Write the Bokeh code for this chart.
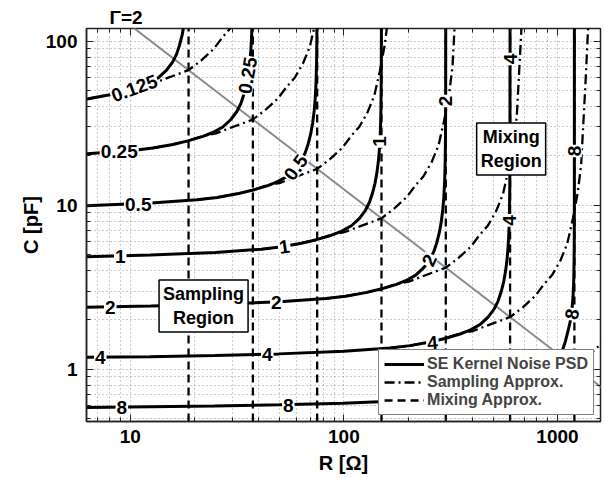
from bokeh.plotting import figure
from bokeh.models import (Range1d, FixedTicker, LogAxis, Label, Legend, LegendItem,
                          ColumnDataSource, NumeralTickFormatter)
from bokeh.core.properties import value
from bokeh.embed import file_html
from bokeh.resources import INLINE

FONT = "Liberation Sans"

# ---------------- axis extents and ticks ----------------
R_MIN, R_MAX = 6.24, 1590.0      # ohm
C_MIN, C_MAX = 0.481, 119.5      # pF

x_ticks = [10, 100, 1000]
x_tick_labels = ["10", "100", "1000"]
x_minor = [7, 8, 9, 20, 30, 40, 50, 60, 70, 80, 90, 200, 300, 400, 500, 600, 700, 800, 900]
y_ticks = [1, 10, 100]
y_tick_labels = ["1", "10", "100"]
y_minor = [0.5, 0.6, 0.7, 0.8, 0.9, 2, 3, 4, 5, 6, 7, 8, 9, 20, 30, 40, 50, 60, 70, 80, 90]

# ---------------- SE kernel noise PSD contours (R [ohm], C [pF]) ----------------
se_R_0125 = [5.14, 6.375, 7.91, 9.3, 10.94, 12.18, 13.56, 14.79, 15.78, 16.48, 17.01, 17.49, 17.86]
se_C_0125 = [43.2, 44.6, 47.0, 49.4, 52.6, 55.5, 60.0, 66.6, 74.6, 83.4, 94.6, 108.9, 127.0]

se_R_025 = [3.105, 6.26, 10.28, 12.75, 15.83, 18.6, 21.88, 24.35, 27.13, 29.58, 31.55, 32.95,
            34.03, 34.98, 35.73, 36.3, 36.7, 37.03, 37.25]
se_C_025 = [19.88, 20.64, 21.6, 22.32, 23.48, 24.68, 26.28, 27.76, 30.0, 33.32, 37.28, 41.72,
            47.32, 54.44, 63.52, 75.16, 88.96, 109.8, 145.3]

se_R_05 = [3.115, 6.21, 12.52, 20.55, 25.5, 31.65, 37.2, 43.75, 48.7, 54.25, 59.15, 63.1, 65.9,
           68.05, 69.95, 71.45, 72.6, 73.4, 74.05, 74.5, 74.75, 74.9]
se_C_05 = [9.72, 9.94, 10.32, 10.8, 11.16, 11.74, 12.34, 13.14, 13.88, 15.0, 16.66, 18.64, 20.86,
           23.66, 27.22, 31.76, 37.58, 44.48, 54.9, 72.66, 103.2, 180.8]

se_R_1 = [3.09, 6.23, 12.42, 25.04, 41.1, 51.0, 63.3, 74.4, 87.5, 97.4, 108.5, 118.3, 126.2, 131.8,
          136.1, 139.9, 142.9, 145.2, 146.8, 148.1, 149.0, 149.5, 149.8, 150.0]
se_C_1 = [4.78, 4.86, 4.97, 5.16, 5.40, 5.58, 5.87, 6.17, 6.57, 6.94, 7.50, 8.33, 9.32, 10.43,
          11.83, 13.61, 15.88, 18.79, 22.24, 27.45, 36.33, 51.6, 90.4, 250.0]

se_R_2 = [3.1, 6.18, 12.46, 24.84, 50.08, 82.2, 102.0, 126.6, 148.8, 175.0, 194.8, 217.0, 236.6,
          252.4, 263.6, 272.2, 279.8, 285.8, 290.4, 293.6, 296.2, 298.0, 299.0, 299.6, 300.0]
se_C_2 = [2.37, 2.39, 2.43, 2.485, 2.58, 2.70, 2.79, 2.935, 3.085, 3.285, 3.47, 3.75, 4.165,
          4.66, 5.215, 5.915, 6.805, 7.94, 9.395, 11.12, 13.73, 18.17, 25.8, 45.2, 250.0]

se_R_4 = [3.04, 6.2, 12.36, 24.92, 49.68, 100.2, 164.4, 204.0, 253.2, 297.6, 350.0, 389.6, 434.0,
          473.2, 504.8, 527.2, 544.4, 559.6, 571.6, 580.8, 587.2, 592.4, 596.0, 598.0, 599.2, 600.0]
se_C_4 = [1.17, 1.185, 1.195, 1.215, 1.2425, 1.29, 1.35, 1.395, 1.4675, 1.5425, 1.6425, 1.735,
          1.875, 2.0825, 2.33, 2.6075, 2.9575, 3.4025, 3.97, 4.6975, 5.56, 6.8625, 9.0825, 12.9,
          22.6, 250.0]

se_R_8 = [6.08, 12.4, 24.72, 49.84, 99.36, 200.3, 328.8, 408.0, 506.4, 595.2, 700.0, 779.2, 868.0,
          946.4, 1009.6, 1054.4, 1088.8, 1119.2, 1150.0, 1170.0, 1183.0, 1191.0, 1196.0, 1198.5,
          1199.5, 1200.0]
se_C_8 = [0.585, 0.5925, 0.5975, 0.6075, 0.621, 0.645, 0.675, 0.6975, 0.734, 0.771, 0.821,
          0.8675, 0.9375, 1.041, 1.165, 1.304, 1.479, 1.701, 1.985, 2.349, 2.78, 3.431, 4.541,
          6.45, 11.3, 250.0]

# ---------------- sampling approximation ----------------
sa_R_0125 = [5.14, 6.375, 7.91, 9.3, 10.94, 12.58, 14.48, 16.48, 18.75, 21.45, 24.56, 27.06, 29.49, 32.16]
sa_C_0125 = [43.2, 44.64, 46.96, 49.36, 52.88, 54.8, 58.8, 62.56, 66.64, 76.16, 89.52, 105.9, 120.2, 146.2]

sa_R_025 = [10.28, 12.75, 15.83, 18.6, 21.88, 25.15, 28.95, 32.95, 37.5, 42.9, 49.13, 54.13, 58.98,
            64.33, 69.35, 73.58]
sa_C_025 = [21.6, 22.32, 23.48, 24.68, 26.44, 27.4, 29.4, 31.28, 33.32, 38.08, 44.76, 52.96, 60.08,
            73.08, 92.8, 129.9]

sa_R_05 = [20.55, 25.5, 31.65, 37.2, 43.75, 50.3, 57.9, 65.9, 75.0, 85.8, 98.25, 108.3, 118.0,
           128.7, 138.7, 147.2, 155.4, 161.3]
sa_C_05 = [10.8, 11.16, 11.74, 12.34, 13.22, 13.7, 14.7, 15.64, 16.66, 19.04, 22.38, 26.48, 30.04,
           36.54, 46.4, 64.96, 94.84, 140.5]

sa_R_1 = [41.1, 51.0, 63.3, 74.4, 87.5, 100.6, 115.8, 131.8, 150.0, 171.6, 196.5, 216.5, 235.9,
          257.3, 277.4, 294.3, 310.7, 322.6, 329.6, 337.9]
sa_C_1 = [5.40, 5.58, 5.87, 6.17, 6.61, 6.85, 7.35, 7.82, 8.33, 9.52, 11.19, 13.24, 15.02, 18.27,
          23.2, 32.48, 47.42, 70.24, 119.7, 218.7]

sa_R_2 = [82.2, 102.0, 126.6, 148.8, 175.0, 201.2, 231.6, 263.6, 300.0, 343.2, 393.0, 433.0, 471.8,
          514.6, 554.8, 588.6, 621.4, 645.2, 659.2, 675.8, 693.4]
sa_C_2 = [2.70, 2.79, 2.935, 3.085, 3.305, 3.425, 3.675, 3.91, 4.165, 4.76, 5.595, 6.62, 7.51,
          9.135, 11.6, 16.24, 23.71, 35.12, 59.85, 109.4, 220.5]

sa_R_4 = [164.4, 204.0, 253.2, 297.6, 350.0, 402.4, 463.2, 527.2, 600.0, 686.4, 786.0, 866.0, 943.6,
          1029.2, 1109.6, 1177.2, 1242.8, 1290.4, 1318.4, 1351.6, 1386.8, 1437.6]
sa_C_4 = [1.35, 1.395, 1.4675, 1.5425, 1.6525, 1.7125, 1.8375, 1.955, 2.0825, 2.38, 2.7975, 3.31,
          3.755, 4.5675, 5.8, 8.12, 11.86, 17.56, 29.93, 54.68, 110.3, 263.0]

sa_R_8 = [328.8, 408.0, 506.4, 595.2, 700.0, 804.8, 926.4, 1054.4, 1200.0, 1372.8, 1572.0, 1732.0, 1887.0]
sa_C_8 = [0.675, 0.6975, 0.734, 0.771, 0.826, 0.856, 0.919, 0.9775, 1.041, 1.19, 1.399, 1.655, 1.878]

# ---------------- mixing approximation (vertical lines) ----------------
mix_R = [18.75, 37.5, 75.0, 150.0, 300.0, 600.0, 1200.0]

# ---------------- Gamma = 2 line ----------------
gamma_R = [10.0, 1700.0]
gamma_C = [125.0, 0.735]

# ---------------- contour labels ----------------
lbl_text = ["0.125", "0.25", "0.25", "0.5", "0.5", "1", "1", "1", "2", "2", "2", "2",
            "4", "4", "4", "4", "4", "8", "8", "8", "8"]
lbl_R = [10.44, 8.88, 35.5, 10.9, 59.6, 8.98, 52.6, 147.6, 8.06, 48.3, 251.5, 299.5,
         7.24, 43.8, 259.8, 598.0, 600.0, 9.13, 54.95, 1170.0, 1200.0]
lbl_C = [51.6, 21.2, 61.8, 10.1, 17.0, 4.88, 5.58, 24.5, 2.39, 2.55, 4.63, 43.2,
         1.18, 1.23, 1.45, 8.09, 77.9, 0.585, 0.605, 2.17, 21.4]
lbl_angle = [20, 0, 80, 0, 55, 0, 8, 90, 0, 0, 65, 90, 0, 0, 5, 90, 90, 0, 0, 80, 90]

region_text = ["Sampling\nRegion", "Mixing\nRegion"]
region_R = [22.04, 606.9]
region_C = [2.43, 22.06]

gamma_text = "Γ=2"

legend_labels = ["SE Kernel Noise PSD", "Sampling Approx.", "Mixing Approx."]

# ---------------- figure ----------------
p = figure(x_axis_type="log", y_axis_type="log",
           x_range=Range1d(R_MIN, R_MAX), y_range=Range1d(C_MIN, C_MAX),
           width=603, height=477,
           min_border_left=86, min_border_right=3, min_border_top=28, min_border_bottom=56,
           output_backend="svg", toolbar_location=None,
           background_fill_color="white", border_fill_color="white")

# "Γ=2" sits above the frame, at the upper end of the grey line
p.title.text = gamma_text
p.title.align = "left"
p.title.offset = 23
p.title.standoff = 2
p.title.text_font = FONT
p.title.text_font_style = "bold"
p.title.text_font_size = "19px"
p.title.text_color = "black"

p.outline_line_color = "#222222"
p.outline_line_width = 1.5

xt = FixedTicker(ticks=x_ticks, minor_ticks=x_minor)
yt = FixedTicker(ticks=y_ticks, minor_ticks=y_minor)

xa = p.xaxis[0]
ya = p.yaxis[0]
xa.ticker = xt
ya.ticker = yt
xa.formatter = NumeralTickFormatter(format="0")
ya.formatter = NumeralTickFormatter(format="0")
xa.major_label_overrides = {t: l for t, l in zip(x_ticks, x_tick_labels)}
ya.major_label_overrides = {t: l for t, l in zip(y_ticks, y_tick_labels)}
xa.axis_label = "R [Ω]"
ya.axis_label = "C [pF]"
for ax in (xa, ya):
    ax.major_tick_in = 7
    ax.major_tick_out = 0
    ax.minor_tick_in = 4
    ax.minor_tick_out = 0
    ax.axis_line_color = "#222222"
    ax.axis_line_width = 1.5
    ax.major_tick_line_color = "#222222"
    ax.minor_tick_line_color = "#222222"
    ax.major_label_text_font = FONT
    ax.major_label_text_font_style = "bold"
    ax.major_label_text_font_size = "19px"
    ax.major_label_text_color = "black"
    ax.axis_label_text_font = FONT
    ax.axis_label_text_font_style = "bold"
    ax.axis_label_text_font_size = "20px"
    ax.axis_label_text_color = "black"
xa.major_label_standoff = 8
xa.axis_label_standoff = 6
ya.major_label_standoff = 9
ya.axis_label_standoff = 1

for loc, tk in (("above", xt), ("right", yt)):
    ax = LogAxis(ticker=tk, major_tick_in=7, major_tick_out=0, minor_tick_in=4, minor_tick_out=0,
                 major_label_text_font_size="1px", major_label_text_alpha=0.0,
                 major_label_standoff=0,
                 axis_line_color=None, major_tick_line_color="#222222",
                 minor_tick_line_color="#222222")
    p.add_layout(ax, loc)

for g in (p.xgrid[0], p.ygrid[0]):
    g.grid_line_color = "#666666"
    g.grid_line_dash = "1 3"
    g.grid_line_width = 1
    g.grid_line_alpha = 0.7
    g.minor_grid_line_color = "#666666"
    g.minor_grid_line_dash = "1 3"
    g.minor_grid_line_width = 1
    g.minor_grid_line_alpha = 0.7

# Gamma = 2 line
p.line(gamma_R, gamma_C, line_color="#8c8c8c", line_width=2)

# mixing approximation
mix_r = p.segment(x0=mix_R, y0=[C_MIN] * len(mix_R), x1=mix_R, y1=[C_MAX] * len(mix_R),
                  line_color="black", line_width=2.3, line_dash="8 5")

# sampling approximation
sa_r = p.multi_line(xs=[sa_R_0125, sa_R_025, sa_R_05, sa_R_1, sa_R_2, sa_R_4, sa_R_8],
                    ys=[sa_C_0125, sa_C_025, sa_C_05, sa_C_1, sa_C_2, sa_C_4, sa_C_8],
                    line_color="black", line_width=2.3, line_dash="10 4 2 4")

# SE kernel noise PSD
se_r = p.multi_line(xs=[se_R_0125, se_R_025, se_R_05, se_R_1, se_R_2, se_R_4, se_R_8],
                    ys=[se_C_0125, se_C_025, se_C_05, se_C_1, se_C_2, se_C_4, se_C_8],
                    line_color="black", line_width=3)

# contour labels
src = ColumnDataSource(dict(x=lbl_R, y=lbl_C, text=lbl_text, angle=lbl_angle))
p.text(x="x", y="y", text="text", angle="angle", angle_units="deg", source=src,
       text_font=value(FONT), text_font_style="bold", text_font_size="19px",
       text_align="center", text_baseline="middle", text_color="black",
       background_fill_color="white", padding=1)

# region boxes
for r, c, t in zip(region_R, region_C, region_text):
    p.add_layout(Label(x=r, y=c, text=t, text_align="center", text_baseline="middle",
                       text_font=FONT, text_font_style="bold", text_font_size="18px",
                       text_color="black",
                       background_fill_color="white", background_fill_alpha=1.0,
                       border_line_color="black", border_line_width=1.5, padding=4))

legend = Legend(items=[LegendItem(label=legend_labels[0], renderers=[se_r]),
                       LegendItem(label=legend_labels[1], renderers=[sa_r]),
                       LegendItem(label=legend_labels[2], renderers=[mix_r])],
                location="bottom_right", margin=6, padding=5, spacing=0,
                label_height=18, glyph_height=18, glyph_width=40, label_standoff=3,
                label_text_font=FONT, label_text_font_style="bold", label_text_font_size="16px",
                border_line_color="black", border_line_width=1.5,
                background_fill_color="white", background_fill_alpha=1.0)
p.add_layout(legend)

open("out.html", "w").write(file_html(p, INLINE))
